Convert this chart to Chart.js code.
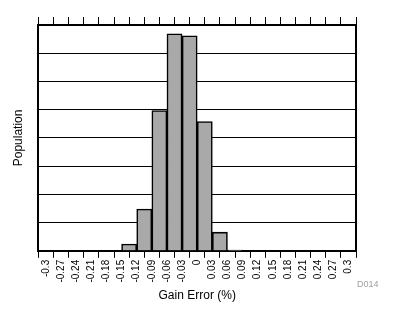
<!DOCTYPE html>
<html>
<head>
<meta charset="utf-8">
<script src="https://cdn.jsdelivr.net/npm/chart.js@4/dist/chart.umd.min.js"></script>
<style>
html,body{margin:0;padding:0;background:#fff;}
#wrap{width:394px;height:320px;}
</style>
</head>
<body>
<div id="wrap"><canvas id="c" width="394" height="320"></canvas></div>
<script>
// Histogram bins (center of each 0.03 %-wide bin) and population counts
const binCenters = [-0.135, -0.105, -0.075, -0.045, -0.015, 0.015, 0.045, 0.075];
const counts     = [24, 148, 497, 769, 762, 458, 66, 3];
const xMin = -0.3, xMax = 0.3, xStep = 0.03;
const yMin = 0, yMax = 800, yStep = 100;
const xTitle = 'Gain Error (%)';
const yTitle = 'Population';
const tag = 'D014';

const FONT = '"Liberation Sans", Arial, sans-serif';
Chart.defaults.font.family = FONT;
Chart.defaults.color = '#000';

const frame = {
  id: 'frame',
  afterDraw(chart) {
    const ctx = chart.ctx, a = chart.chartArea;
    ctx.save();
    ctx.fillStyle = '#a0a0a0';
    ctx.font = '9px ' + FONT;
    ctx.textAlign = 'left';
    ctx.textBaseline = 'middle';
    ctx.fillText(tag, a.right + 1, 285);
    ctx.restore();
  }
};

new Chart(document.getElementById('c'), {
  type: 'bar',
  data: {
    datasets: [{
      data: binCenters.map((x, i) => ({x: x, y: counts[i]})),
      backgroundColor: '#a9a9a9',
      borderColor: '#000',
      borderWidth: 1.6,
      barPercentage: 1,
      categoryPercentage: 1
    }]
  },
  options: {
    responsive: false,
    animation: false,
    plugins: { legend: {display: false}, tooltip: {enabled: false} },
    layout: { padding: {left: 11, right: 38, top: 17, bottom: 17} },
    scales: {
      x: {
        type: 'linear', position: 'bottom',
        min: xMin, max: xMax,
        ticks: {
          stepSize: xStep, autoSkip: false, minRotation: 90, maxRotation: 90,
          padding: 2, font: {size: 10}, color: '#000',
          callback: v => { const r = Math.round(v * 100) / 100; return r === 0 ? '0' : String(r); }
        },
        grid: { drawOnChartArea: false, drawTicks: true, tickLength: 7, color: '#000', lineWidth: 1 },
        border: { display: true, color: '#000', width: 2 },
        title: { display: true, text: xTitle, font: {size: 12}, color: '#000', padding: {top: 4, bottom: 0} }
      },
      x2: {
        type: 'linear', position: 'top',
        min: xMin, max: xMax,
        ticks: { stepSize: xStep, display: false, autoSkip: false },
        grid: { drawOnChartArea: false, drawTicks: true, tickLength: 8, color: '#000', lineWidth: 1 },
        border: { display: true, color: '#000', width: 2 }
      },
      y: {
        position: 'left',
        min: yMin, max: yMax,
        ticks: { stepSize: yStep, display: false },
        grid: { color: '#000', lineWidth: 1, drawTicks: false },
        border: { display: true, color: '#000', width: 2 },
        title: { display: true, text: yTitle, font: {size: 12}, color: '#000', padding: {top: 0, bottom: 13} }
      },
      y2: {
        position: 'right',
        min: yMin, max: yMax,
        ticks: { display: false },
        grid: { display: false, drawTicks: false },
        border: { display: true, color: '#000', width: 2 }
      }
    }
  },
  plugins: [frame]
});
</script>
</body>
</html>
